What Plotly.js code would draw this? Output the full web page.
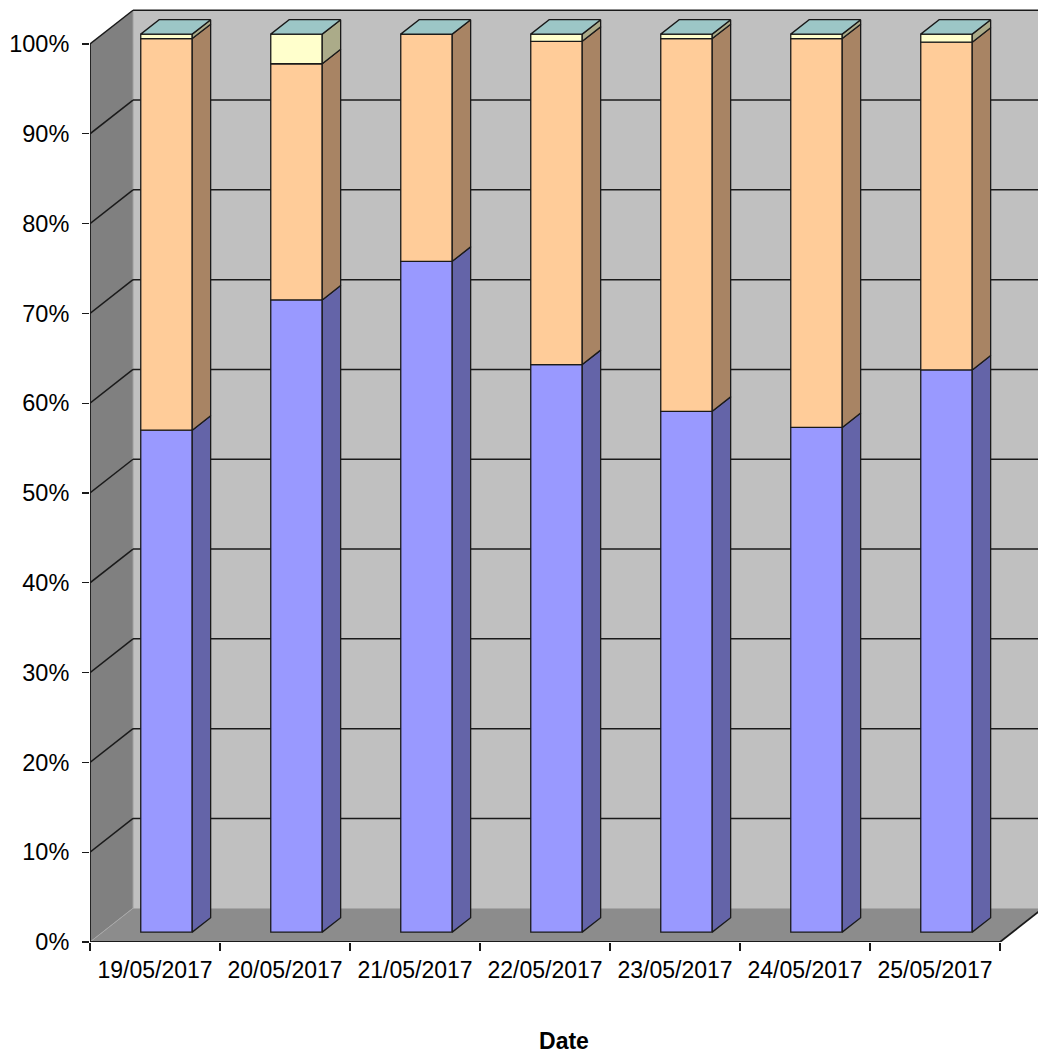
<!DOCTYPE html>
<html>
<head>
<meta charset="utf-8">
<script src="https://cdn.plot.ly/plotly-3.0.1.min.js"></script>
<style>
  html, body { margin: 0; padding: 0; background: #ffffff; }
  #chart { width: 1038px; height: 1054px; }
</style>
</head>
<body>
<div id="chart"></div>
<script>
// Daily shares (percent of the day's total), stacked bottom to top
const dates = ['19/05/2017', '20/05/2017', '21/05/2017', '22/05/2017', '23/05/2017', '24/05/2017', '25/05/2017'];
const seriesBlue = [55.9, 70.4, 74.7, 63.2, 58.0, 56.2, 62.6];
const seriesOrange = [43.6, 26.3, 25.3, 36.0, 41.5, 43.3, 36.5];
const seriesYellow = [0.5, 3.3, 0.0, 0.8, 0.5, 0.5, 0.9];
const yTickValues = [0, 10, 20, 30, 40, 50, 60, 70, 80, 90, 100];
const yTickLabels = ['0%', '10%', '20%', '30%', '40%', '50%', '60%', '70%', '80%', '90%', '100%'];

// Fake-3D projection: full depth of the box in axis units
const DX = 0.331;      // horizontal shift of the back wall (categories)
const DY = 3.76;       // vertical shift of the back wall (percent)
const D1 = 0.267;      // depth of a column's front face
const D2 = 0.695;      // depth of a column's back face
const BAR_W = 0.396;   // column width (categories)
const BAR_LIFT = 1.1;  // vertical lift of the column front face (percent)

const stack = [
  {name: 'Series 1', values: seriesBlue,   front: '#9999FF', side: '#6464A8'},
  {name: 'Series 2', values: seriesOrange, front: '#FFCC99', side: '#A88464'},
  {name: 'Series 3', values: seriesYellow, front: '#FFFFCC', side: '#ABAB89'}
];
const topColor = '#9CC6C6';
const edge = '#1a1a1a';

const n = dates.length;
const x0 = -0.5, x1 = n - 0.5;

// Box: walls, floor, gridlines
function path(pts) {
  return 'M ' + pts.map(p => p[0] + ',' + p[1]).join(' L ') + ' Z';
}
const shapes = [];
shapes.push({type: 'path', layer: 'below', xref: 'x', yref: 'y', fillcolor: '#C0C0C0', line: {width: 0},
  path: path([[x0 + DX, DY], [x1 + DX, DY], [x1 + DX, 100 + DY], [x0 + DX, 100 + DY]])});
shapes.push({type: 'path', layer: 'below', xref: 'x', yref: 'y', fillcolor: '#808080', line: {width: 0},
  path: path([[x0, 0], [x0, 100], [x0 + DX, 100 + DY], [x0 + DX, DY]])});
shapes.push({type: 'path', layer: 'below', xref: 'x', yref: 'y', fillcolor: '#8C8C8C', line: {width: 0},
  path: path([[x0, 0], [x1, 0], [x1 + DX, DY], [x0 + DX, DY]])});
// soft seams between walls and floor
shapes.push({type: 'line', layer: 'below', xref: 'x', yref: 'y', x0: x0, y0: 0, x1: x0 + DX, y1: DY,
  line: {color: '#a8a8a8', width: 1}});
shapes.push({type: 'line', layer: 'below', xref: 'x', yref: 'y', x0: x0 + DX, y0: DY, x1: x0 + DX, y1: 100 + DY,
  line: {color: '#a0a0a0', width: 1}});
yTickValues.forEach(v => {
  if (v === 0) return;
  shapes.push({type: 'line', layer: 'below', xref: 'x', yref: 'y',
    x0: x0, y0: v, x1: x0 + DX, y1: v + DY, line: {color: edge, width: 1.5}});
  shapes.push({type: 'line', layer: 'below', xref: 'x', yref: 'y',
    x0: x0 + DX, y0: v + DY, x1: x1 + DX + 1, y1: v + DY, line: {color: edge, width: 1.5}});
});
// front edges of the box
shapes.push({type: 'line', layer: 'below', xref: 'x', yref: 'y', x0: x0, y0: 0, x1: x0, y1: 100,
  line: {color: edge, width: 1.8}});
shapes.push({type: 'line', layer: 'below', xref: 'x', yref: 'y', x0: x0, y0: 0, x1: x1, y1: 0,
  line: {color: edge, width: 1.8}});
shapes.push({type: 'line', layer: 'below', xref: 'x', yref: 'y', x0: x1, y0: 0, x1: x1 + DX, y1: DY,
  line: {color: edge, width: 1.8}});

// Columns
const traces = [];
const xs = dates.map((d, i) => i + D1 * DX);
const cum = new Array(n).fill(0);
const baseRows = stack.map(s => {
  const b = cum.slice();
  s.values.forEach((v, i) => { cum[i] += v; });
  return b;
});

// front faces
stack.forEach((s, k) => {
  traces.push({
    type: 'bar', name: s.name, x: xs, y: s.values,
    base: baseRows[k].map(b => b + BAR_LIFT), width: BAR_W,
    marker: {color: s.front, line: {color: edge, width: 1.3}},
    hoverinfo: 'skip', showlegend: false
  });
});

// right-hand side faces
const sx = (D2 - D1) * DX;
const sy1 = BAR_LIFT, sy2 = BAR_LIFT + (D2 - D1) * DY;
stack.forEach((s, k) => {
  const px = [], py = [];
  s.values.forEach((v, i) => {
    if (v <= 0) return;
    const xr = xs[i] + BAR_W / 2;
    const b = baseRows[k][i], t = b + v;
    px.push(xr, xr + sx, xr + sx, xr, xr, null);
    py.push(b + sy1, b + sy2, t + sy2, t + sy1, b + sy1, null);
  });
  traces.push({type: 'scatter', mode: 'lines', x: px, y: py, fill: 'toself',
    fillcolor: s.side, line: {color: edge, width: 1.3}, hoverinfo: 'skip', showlegend: false});
});

// top faces
const tx = [], ty = [];
cum.forEach((total, i) => {
  const xl = xs[i] - BAR_W / 2, xr = xs[i] + BAR_W / 2;
  tx.push(xl, xr, xr + sx, xl + sx, xl, null);
  ty.push(total + sy1, total + sy1, total + sy2, total + sy2, total + sy1, null);
});
traces.push({type: 'scatter', mode: 'lines', x: tx, y: ty, fill: 'toself',
  fillcolor: topColor, line: {color: edge, width: 1.3}, hoverinfo: 'skip', showlegend: false});

const font = 'Liberation Sans, Arial, Helvetica, sans-serif';
const layout = {
  width: 1038, height: 1054,
  margin: {l: 90, r: 0, t: 5, b: 112},
  paper_bgcolor: '#ffffff', plot_bgcolor: 'rgba(0,0,0,0)',
  barmode: 'overlay',
  showlegend: false,
  font: {family: font, color: '#000000', size: 23},
  xaxis: {
    range: [x0, x0 + 948 / 130], fixedrange: true,
    tickmode: 'array', tickvals: dates.map((d, i) => i), ticktext: dates,
    ticks: '', showgrid: false, zeroline: false, showline: false,
    ticklabelstandoff: 12,
    tickfont: {family: font, size: 23, color: '#000'},
    minor: {tick0: -0.5, dtick: 1, ticks: 'outside', ticklen: 8, tickwidth: 1.3, tickcolor: edge, showgrid: false},
    title: {text: '<b>Date</b>', font: {family: font, size: 23, color: '#000'}, standoff: 52}
  },
  yaxis: {
    range: [0, (1054 - 112 - 5) / 8.98], fixedrange: true,
    tickmode: 'array', tickvals: yTickValues, ticktext: yTickLabels,
    ticks: 'outside', ticklen: 7, tickwidth: 1.3, tickcolor: edge,
    ticklabelstandoff: 8,
    showgrid: false, zeroline: false, showline: false,
    tickfont: {family: font, size: 23.5, color: '#000'}
  },
  shapes: shapes
};

Plotly.newPlot('chart', traces, layout, {displayModeBar: false, staticPlot: true});
</script>
</body>
</html>
